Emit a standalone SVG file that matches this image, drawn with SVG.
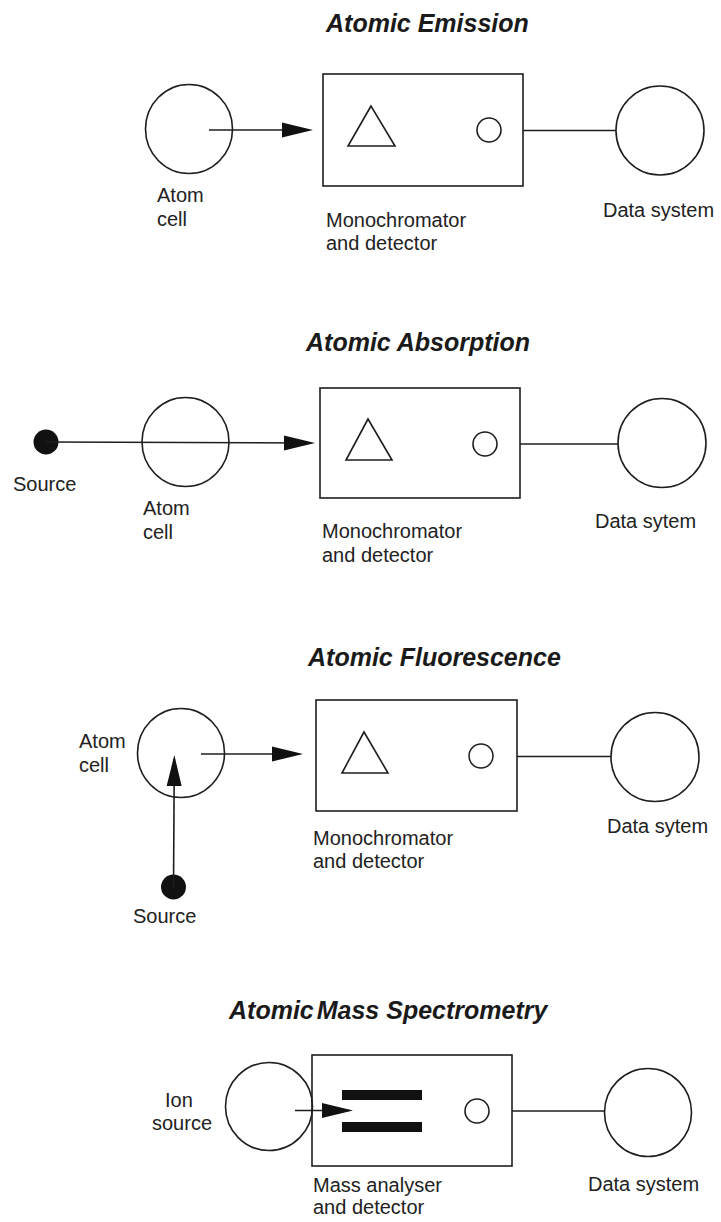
<svg xmlns="http://www.w3.org/2000/svg" width="721" height="1222" viewBox="0 0 721 1222">
  <style>
    .title { font-family: "Liberation Sans", Arial, sans-serif; font-size: 25px; font-weight: bold; font-style: italic; fill: #1a1a1a; }
    .lbl { font-family: "Liberation Sans", Arial, sans-serif; font-size: 20px; fill: #222; }
    .shape { fill: none; stroke: #1e1e1e; stroke-width: 1.6; }
    .wire { fill: none; stroke: #1e1e1e; stroke-width: 1.6; }
    .dot { fill: #111; }
    .bar { fill: #111; }
  </style>
  <defs>
    <marker id="head" markerUnits="userSpaceOnUse" markerWidth="34" markerHeight="18" refX="27" refY="8" orient="auto">
      <path d="M0,0.5 L31,8 L0,15.5 Z" fill="#111"/>
    </marker>
  </defs>
  <rect width="721" height="1222" fill="#fff"/>

  <!-- Atomic Emission -->
  <text class="title" x="326" y="32">Atomic Emission</text>
  <g id="em-atomcell">
    <ellipse class="shape" cx="189" cy="129" rx="43.5" ry="44.5"/>
    <text class="lbl" x="157" y="202">Atom</text>
    <text class="lbl" x="157" y="226">cell</text>
  </g>
  <g id="em-mono">
    <rect class="shape" x="323" y="74" width="200" height="112"/>
    <polygon class="shape" points="371,106 348,146 395,146"/>
    <circle class="shape" cx="489" cy="130" r="12"/>
    <text class="lbl" x="326" y="227">Monochromator</text>
    <text class="lbl" x="326" y="250">and detector</text>
  </g>
  <g id="em-data">
    <ellipse class="shape" cx="660" cy="130.5" rx="44" ry="44.5"/>
    <text class="lbl" x="603" y="217">Data system</text>
  </g>

  <!-- Atomic Absorption -->
  <text class="title" x="306" y="351">Atomic Absorption</text>
  <g id="ab-source">
    <circle class="dot" cx="46" cy="442" r="12.5"/>
    <text class="lbl" x="13" y="491">Source</text>
  </g>
  <g id="ab-atomcell">
    <ellipse class="shape" cx="185.5" cy="442" rx="43.5" ry="44.5"/>
    <text class="lbl" x="143" y="515">Atom</text>
    <text class="lbl" x="143" y="539">cell</text>
  </g>
  <g id="ab-mono">
    <rect class="shape" x="320" y="388" width="200" height="110"/>
    <polygon class="shape" points="368,419 346,460 392,460"/>
    <circle class="shape" cx="485" cy="444" r="12"/>
    <text class="lbl" x="322" y="538">Monochromator</text>
    <text class="lbl" x="322" y="562">and detector</text>
  </g>
  <g id="ab-data">
    <ellipse class="shape" cx="662" cy="443" rx="44" ry="44.5"/>
    <text class="lbl" x="595" y="528">Data sytem</text>
  </g>

  <!-- Atomic Fluorescence -->
  <text class="title" x="308" y="666">Atomic Fluorescence</text>
  <g id="fl-atomcell">
    <ellipse class="shape" cx="181" cy="753" rx="43.5" ry="44.5"/>
    <text class="lbl" x="79" y="748">Atom</text>
    <text class="lbl" x="79" y="772">cell</text>
  </g>
  <g id="fl-source">
    <circle class="dot" cx="173.5" cy="887" r="12.5"/>
    <text class="lbl" x="133" y="923">Source</text>
  </g>
  <g id="fl-mono">
    <rect class="shape" x="316" y="700" width="201" height="111"/>
    <polygon class="shape" points="364,732 342,773 388,773"/>
    <circle class="shape" cx="481" cy="756" r="12"/>
    <text class="lbl" x="313" y="845">Monochromator</text>
    <text class="lbl" x="313" y="868">and detector</text>
  </g>
  <g id="fl-data">
    <ellipse class="shape" cx="655" cy="757" rx="44" ry="44.5"/>
    <text class="lbl" x="607" y="833">Data sytem</text>
  </g>

  <!-- Atomic Mass Spectrometry -->
  <text class="title" x="229" y="1019">Atomic<tspan dx="3">Mass Spectrometry</tspan></text>
  <g id="ms-ionsource">
    <ellipse class="shape" cx="269" cy="1106.5" rx="43.5" ry="44"/>
    <text class="lbl" x="165" y="1107">Ion</text>
    <text class="lbl" x="152" y="1130">source</text>
  </g>
  <g id="ms-analyser">
    <rect class="shape" x="312" y="1055" width="200" height="111"/>
    <rect class="bar" x="342" y="1090" width="80" height="10"/>
    <rect class="bar" x="342" y="1122" width="80" height="10"/>
    <circle class="shape" cx="477" cy="1111" r="12"/>
    <text class="lbl" x="313" y="1192">Mass analyser</text>
    <text class="lbl" x="313" y="1214">and detector</text>
  </g>
  <g id="ms-data">
    <ellipse class="shape" cx="648" cy="1112.5" rx="43.5" ry="44"/>
    <text class="lbl" x="588" y="1191">Data system</text>
  </g>

  <!-- connectors -->
  <g id="connectors">
    <line class="wire" x1="209" y1="130" x2="309" y2="130" marker-end="url(#head)"/>
    <line class="wire" x1="523" y1="130.5" x2="616" y2="130.5"/>

    <line class="wire" x1="46" y1="442" x2="311" y2="443" marker-end="url(#head)"/>
    <line class="wire" x1="520" y1="444" x2="618" y2="444"/>

    <line class="wire" x1="201" y1="754" x2="299" y2="754" marker-end="url(#head)"/>
    <line class="wire" x1="173.5" y1="887" x2="174.3" y2="759" marker-end="url(#head)"/>
    <line class="wire" x1="517" y1="756.5" x2="611" y2="756.5"/>

    <line class="wire" x1="295" y1="1110.5" x2="349" y2="1110.5" marker-end="url(#head)"/>
    <line class="wire" x1="512" y1="1111" x2="604" y2="1111"/>
  </g>
</svg>
